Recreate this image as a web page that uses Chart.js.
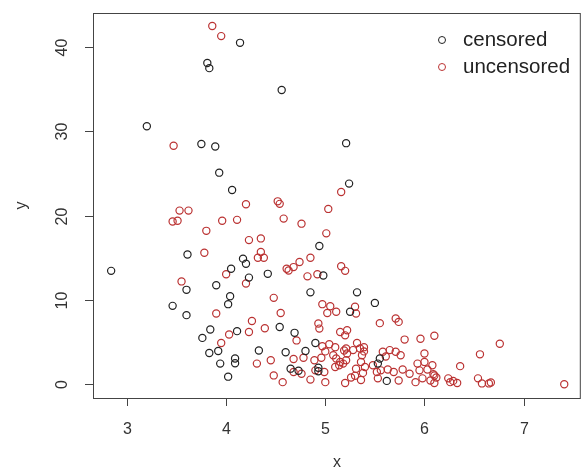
<!DOCTYPE html>
<html>
<head>
<meta charset="utf-8">
<script src="https://cdn.jsdelivr.net/npm/chart.js@4.4.0/dist/chart.umd.min.js"></script>
<style>
  html, body { margin: 0; padding: 0; background: #fff; }
  #wrap { position: relative; width: 586px; height: 474px; }
</style>
</head>
<body>
<div id="wrap"><canvas id="plot"></canvas></div>
<script>
// censored observations (black)
const censoredX = [4.14, 3.81, 3.83, 3.20, 3.75, 3.89, 4.56, 5.21, 3.93, 4.06,
  5.24, 3.61, 4.17, 4.20, 2.84, 4.05, 4.23, 4.42, 4.94, 4.98,
  3.60, 3.90, 4.04, 4.02, 3.46, 3.60, 4.85, 5.32, 5.50, 5.25,
  4.54, 4.69, 3.84, 4.11, 3.76, 3.92, 3.83, 4.33, 4.09, 4.09,
  3.94, 4.02, 4.90, 4.80, 4.60, 4.93, 4.93, 4.65, 4.73, 5.55,
  5.53, 5.62];
const censoredY = [40.5, 38.1, 37.5, 30.6, 28.5, 28.2, 34.9, 28.6, 25.1, 23.05,
  23.8, 15.4, 14.9, 14.3, 13.45, 13.7, 12.65, 13.1, 16.4, 12.9,
  11.2, 11.75, 10.45, 9.5, 9.3, 8.2, 10.9, 10.9, 9.65, 8.6,
  6.8, 6.1, 6.5, 6.3, 5.5, 3.95, 3.7, 4.0, 3.05, 2.5,
  2.45, 0.9, 4.9, 3.95, 3.8, 1.95, 1.55, 1.85, 1.6, 3.05,
  2.45, 0.4];

// uncensored observations (red)
const uncensoredX = [3.86, 3.95, 3.47, 4.20, 4.52, 4.54, 3.53, 3.62, 3.46, 3.51,
  3.96, 4.11, 3.80, 4.23, 4.35, 4.35, 4.32, 4.38, 3.78, 4.00,
  3.55, 4.20, 5.16, 5.03, 4.58, 4.76, 5.01, 4.85, 4.74, 4.68,
  4.61, 4.63, 4.82, 4.92, 5.16, 5.20, 4.48, 3.90, 4.26, 4.03,
  4.23, 4.39, 3.95, 4.31, 4.45, 4.48, 4.55, 4.97, 5.05, 5.02,
  5.11, 5.30, 5.31, 4.93, 4.94, 4.71, 5.15, 5.22, 5.20, 4.68,
  4.78, 4.89, 4.96, 4.97, 5.04, 5.00, 5.10, 5.21, 5.08, 5.11,
  5.14, 5.10, 5.19, 5.22, 5.21, 5.18, 5.15, 5.36, 5.40, 5.31,
  5.32, 5.39, 5.35, 5.28, 5.39, 5.37, 4.68, 4.76, 4.90, 4.99,
  4.57, 4.85, 5.00, 5.20, 5.26, 5.30, 5.36, 5.38, 5.55, 5.71,
  5.74, 5.80, 5.96, 6.10, 6.00, 5.58, 5.65, 5.71, 5.76, 5.61,
  5.48, 5.56, 5.63, 5.69, 5.78, 5.85, 5.52, 5.53, 5.93, 6.00,
  6.08, 5.95, 6.03, 6.10, 5.98, 6.06, 5.74, 5.91, 6.76, 6.56,
  6.36, 6.09, 6.12, 6.10, 6.24, 6.26, 6.29, 6.33, 6.54, 6.58,
  6.65, 6.67, 7.41];
const uncensoredY = [42.5, 41.3, 28.3, 21.35, 21.7, 21.4, 20.6, 20.6, 19.3, 19.4,
  19.4, 19.5, 18.2, 17.1, 17.3, 15.7, 15.0, 15.0, 15.6, 13.05,
  12.2, 11.95, 22.8, 20.8, 19.65, 19.05, 17.9, 15.0, 14.5, 13.9,
  13.7, 13.5, 12.8, 13.05, 14.0, 13.45, 10.25, 8.4, 7.5, 5.9,
  6.2, 6.65, 4.9, 2.45, 2.85, 1.05, 8.45, 9.5, 9.25, 8.45,
  8.6, 9.2, 8.4, 7.2, 6.6, 5.2, 6.2, 6.4, 5.8, 3.0,
  3.15, 2.85, 3.15, 4.5, 4.75, 3.9, 4.4, 4.25, 3.45, 3.05,
  2.25, 2.05, 4.0, 3.65, 2.85, 2.45, 2.65, 2.65, 2.05, 1.85,
  4.9, 4.4, 4.25, 4.05, 3.9, 3.45, 1.45, 1.25, 1.65, 1.45,
  0.25, 0.55, 0.25, 0.15, 0.8, 1.0, 0.5, 1.35, 7.25, 7.8,
  7.4, 5.3, 5.4, 5.75, 3.65, 3.85, 4.05, 3.85, 3.45, 3.3,
  2.25, 1.65, 1.75, 1.45, 1.75, 1.25, 1.45, 0.7, 2.45, 2.65,
  2.25, 1.65, 1.75, 1.05, 0.7, 0.45, 0.45, 0.25, 4.8, 3.55,
  2.15, 1.2, 0.8, 0.15, 0.7, 0.25, 0.4, 0.15, 0.7, 0.1,
  0.1, 0.2, 0.0];

const seriesNames = ['censored', 'uncensored'];
const seriesColors = ['#222222', '#bb3333'];
const xTicks = [3, 4, 5, 6, 7];
const yTicks = [0, 10, 20, 30, 40];

const toPoints = (xs, ys) => xs.map((x, i) => ({ x: x, y: ys[i] }));

const FONT = '"Liberation Sans", Arial, sans-serif';

/* R-style frame, ticks, labels and legend */
const rAxes = {
  id: 'rAxes',
  afterDraw(chart) {
    const { ctx, chartArea: a, scales } = chart;
    const xs = scales.x, ys = scales.y;
    ctx.save();
    ctx.strokeStyle = '#444';
    ctx.lineWidth = 1;
    ctx.strokeRect(a.left + 0.5, a.top + 0.5, a.right - a.left - 1, a.bottom - a.top);

    ctx.fillStyle = '#333';
    ctx.font = '16px ' + FONT;
    ctx.textAlign = 'center';
    ctx.textBaseline = 'middle';
    xTicks.forEach(t => {
      const px = Math.round(xs.getPixelForValue(t)) + 0.5;
      ctx.beginPath();
      ctx.moveTo(px, a.bottom);
      ctx.lineTo(px, a.bottom + 8);
      ctx.stroke();
      ctx.fillText(String(t), px, a.bottom + 32);
    });
    yTicks.forEach(t => {
      const py = Math.round(ys.getPixelForValue(t)) + 0.5;
      ctx.beginPath();
      ctx.moveTo(a.left, py);
      ctx.lineTo(a.left - 8, py);
      ctx.stroke();
      ctx.save();
      ctx.translate(a.left - 30, py);
      ctx.rotate(-Math.PI / 2);
      ctx.fillText(String(t), 0, 0);
      ctx.restore();
    });

    // axis titles
    ctx.fillText('x', (a.left + a.right) / 2, 463);
    ctx.save();
    ctx.translate(22, (a.top + a.bottom) / 2);
    ctx.rotate(-Math.PI / 2);
    ctx.fillText('y', 0, 0);
    ctx.restore();

    // legend, top right
    ctx.font = '20.5px ' + FONT;
    ctx.textAlign = 'left';
    seriesNames.forEach((name, i) => {
      const cy = 40 + i * 27;
      ctx.beginPath();
      ctx.strokeStyle = seriesColors[i];
      ctx.arc(442, cy, 3.5, 0, Math.PI * 2);
      ctx.stroke();
      ctx.fillStyle = '#222';
      ctx.fillText(name, 463, cy);
    });
    ctx.restore();
  }
};

new Chart(document.getElementById('plot'), {
  type: 'scatter',
  data: {
    datasets: [
      {
        label: seriesNames[0],
        data: toPoints(censoredX, censoredY),
        borderColor: seriesColors[0],
        backgroundColor: 'rgba(0,0,0,0)',
        borderWidth: 1.2,
        pointRadius: 3.6
      },
      {
        label: seriesNames[1],
        data: toPoints(uncensoredX, uncensoredY),
        borderColor: seriesColors[1],
        backgroundColor: 'rgba(0,0,0,0)',
        borderWidth: 1.2,
        pointRadius: 3.6
      }
    ]
  },
  options: {
    responsive: true,
    maintainAspectRatio: false,
    animation: false,
    layout: { padding: { left: 93, top: 13, right: 1, bottom: 76 } },
    plugins: { legend: { display: false }, tooltip: { enabled: false } },
    scales: {
      x: { type: 'linear', display: false, min: 2.657, max: 7.577 },
      y: { type: 'linear', display: false, min: -1.63, max: 44.04 }
    }
  },
  plugins: [rAxes]
});
</script>
</body>
</html>
